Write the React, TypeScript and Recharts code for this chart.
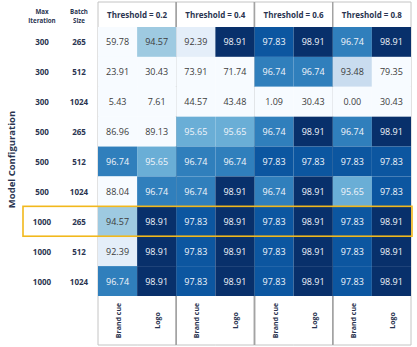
import React from 'react';
import { ScatterChart, Scatter, XAxis, YAxis, ReferenceLine } from 'recharts';

// ---------- data ----------
const thresholds = ['Threshold = 0.2', 'Threshold = 0.4', 'Threshold = 0.6', 'Threshold = 0.8'];
const cueTypes = ['Brand cue', 'Logo'];
const maxIterations = [300, 300, 300, 500, 500, 500, 1000, 1000, 1000];
const batchSizes = [265, 512, 1024, 265, 512, 1024, 265, 512, 1024];
const thr02Brand = [59.78, 23.91, 5.43, 86.96, 96.74, 88.04, 94.57, 92.39, 96.74];
const thr02Logo = [94.57, 30.43, 7.61, 89.13, 95.65, 96.74, 98.91, 98.91, 98.91];
const thr04Brand = [92.39, 73.91, 44.57, 95.65, 96.74, 96.74, 97.83, 97.83, 97.83];
const thr04Logo = [98.91, 71.74, 43.48, 95.65, 96.74, 98.91, 98.91, 98.91, 98.91];
const thr06Brand = [97.83, 96.74, 1.09, 96.74, 97.83, 96.74, 97.83, 97.83, 97.83];
const thr06Logo = [98.91, 96.74, 30.43, 98.91, 97.83, 98.91, 98.91, 98.91, 98.91];
const thr08Brand = [96.74, 93.48, 0.0, 96.74, 97.83, 95.65, 97.83, 97.83, 97.83];
const thr08Logo = [98.91, 79.35, 30.43, 98.91, 97.83, 97.83, 98.91, 98.91, 98.91];
const highlightedRow = 6;

const columnSeries = [thr02Brand, thr02Logo, thr04Brand, thr04Logo, thr06Brand, thr06Logo, thr08Brand, thr08Logo];

const cells = columnSeries.flatMap((series, col) =>
  series.map((value, row) => ({ col, row, value }))
);

// ---------- layout / style ----------
const W = 417;
const H = 347;
const PLOT_LEFT = 98;
const PLOT_RIGHT = 411;
const PLOT_TOP = 27;
const PLOT_BOTTOM = 296;
const HEADER_TOP = 2;
const FOOT_BOTTOM = 345;
const NCOL = columnSeries.length;
const NROW = maxIterations.length;
const CELL_W = (PLOT_RIGHT - PLOT_LEFT) / NCOL;
const CELL_H = (PLOT_BOTTOM - PLOT_TOP) / NROW;
const FONT = "'Open Sans', sans-serif";
const NAVY = '#2a3450';
const LIGHT_LINE = '#c4c4c4';
const DARK_LINE = '#a3a3a3';

// colour scale (Blues-like)
const colorDomain = [90, 92.4, 93.5, 94.6, 95.65, 96.75, 97.85, 98.9];
const colorRange = ['#f7fbff', '#e4eef9', '#c8dcef', '#9dc9e1', '#6aaed6', '#2f7fbc', '#0b559f', '#08306b'];

function hexToRgb(h: string) {
  const n = parseInt(h.slice(1), 16);
  return [(n >> 16) & 255, (n >> 8) & 255, n & 255];
}
function colorFor(v: number) {
  if (v <= colorDomain[0]) return colorRange[0];
  for (let i = 1; i < colorDomain.length; i++) {
    if (v <= colorDomain[i]) {
      const t = (v - colorDomain[i - 1]) / (colorDomain[i] - colorDomain[i - 1]);
      const a = hexToRgb(colorRange[i - 1]);
      const b = hexToRgb(colorRange[i]);
      const c = a.map((x, k) => Math.round(x + (b[k] - x) * t));
      return `rgb(${c[0]},${c[1]},${c[2]})`;
    }
  }
  return colorRange[colorRange.length - 1];
}

const renderCell = (props: any) => {
  const { cx, cy, payload } = props;
  const v = payload.value as number;
  return (
    <g>
      <rect x={cx - CELL_W / 2} y={cy - CELL_H / 2} width={CELL_W} height={CELL_H} fill={colorFor(v)} />
      <text
        x={cx}
        y={cy}
        textAnchor="middle"
        dominantBaseline="central"
        fontFamily={FONT}
        fontSize={9}
        fill={v >= 95 ? '#f2f5fa' : '#3c3c3c'}
      >
        {v.toFixed(2)}
      </text>
    </g>
  );
};

const renderHighlight = (props: any) => {
  const { cy } = props;
  const left = 23;
  return (
    <rect
      x={left}
      y={cy - CELL_H / 2}
      width={PLOT_RIGHT + 1 - left}
      height={CELL_H}
      fill="none"
      stroke="#f2b81c"
      strokeWidth={1.6}
    />
  );
};

const renderThrTick = (props: any) => {
  const { x, payload, index } = props;
  const gw = CELL_W * 2;
  const l = x - gw / 2;
  const r = x + gw / 2;
  return (
    <g>
      <rect x={l} y={HEADER_TOP} width={gw} height={PLOT_TOP - HEADER_TOP} fill="#ffffff" />
      <line x1={l} x2={r} y1={HEADER_TOP} y2={HEADER_TOP} stroke={LIGHT_LINE} strokeWidth={1} />
      <line x1={l} x2={l} y1={HEADER_TOP} y2={PLOT_TOP} stroke={index === 0 ? LIGHT_LINE : DARK_LINE} strokeWidth={index === 0 ? 1 : 1.5} />
      <line x1={r} x2={r} y1={HEADER_TOP} y2={PLOT_TOP} stroke={index === 3 ? LIGHT_LINE : DARK_LINE} strokeWidth={index === 3 ? 1 : 1.5} />
      <text x={x} y={14.5} textAnchor="middle" dominantBaseline="central" fontFamily={FONT} fontWeight={700} fontSize={8} fill={NAVY}>
        {thresholds[Math.round(payload.value - 0.5) / 2]}
      </text>
    </g>
  );
};

const renderCueTick = (props: any) => {
  const { x, payload } = props;
  const col = payload.value as number;
  const l = x - CELL_W / 2;
  const r = x + CELL_W / 2;
  const cy = (PLOT_BOTTOM + FOOT_BOTTOM) / 2;
  const isBrand = col % 2 === 0;
  const edgeX = isBrand ? l : r;
  const outer = col === 0 || col === NCOL - 1;
  return (
    <g>
      <line x1={l} x2={r} y1={FOOT_BOTTOM} y2={FOOT_BOTTOM} stroke={LIGHT_LINE} strokeWidth={1} />
      <line x1={edgeX} x2={edgeX} y1={PLOT_BOTTOM} y2={FOOT_BOTTOM} stroke={outer ? LIGHT_LINE : DARK_LINE} strokeWidth={outer ? 1 : 1.5} />
      <text
        x={x + 1}
        y={cy}
        transform={`rotate(-90, ${x + 1}, ${cy})`}
        textAnchor="middle"
        dominantBaseline="central"
        fontFamily={FONT}
        fontWeight={700}
        fontSize={7}
        fill={NAVY}
      >
        {cueTypes[col % 2]}
      </text>
    </g>
  );
};

const renderRowTick = (props: any) => {
  const { y, payload } = props;
  const row = payload.value as number;
  return (
    <g>
      <text x={42} y={y} textAnchor="middle" dominantBaseline="central" fontFamily={FONT} fontWeight={700} fontSize={8} fill={NAVY}>
        {maxIterations[row]}
      </text>
      <text x={79} y={y} textAnchor="middle" dominantBaseline="central" fontFamily={FONT} fontWeight={700} fontSize={8} fill={NAVY}>
        {batchSizes[row]}
      </text>
    </g>
  );
};

const YLabel = () => {
  const cy = (PLOT_TOP + PLOT_BOTTOM) / 2 - 2;
  return (
    <g>
      <text x={11} y={cy} transform={`rotate(-90, 11, ${cy})`} textAnchor="middle" dominantBaseline="central" fontFamily={FONT} fontWeight={700} fontSize={9.5} fill={NAVY}>
        Model Configuration
      </text>
      <text x={42} y={11} textAnchor="middle" dominantBaseline="central" fontFamily={FONT} fontWeight={700} fontSize={6.2} fill={NAVY}>Max</text>
      <text x={42} y={20} textAnchor="middle" dominantBaseline="central" fontFamily={FONT} fontWeight={700} fontSize={6.2} fill={NAVY}>Iteration</text>
      <text x={79} y={11} textAnchor="middle" dominantBaseline="central" fontFamily={FONT} fontWeight={700} fontSize={6.2} fill={NAVY}>Batch</text>
      <text x={79} y={20} textAnchor="middle" dominantBaseline="central" fontFamily={FONT} fontWeight={700} fontSize={6.2} fill={NAVY}>Size</text>
    </g>
  );
};

const colTicks = columnSeries.map((_, i) => i);
const groupTicks = thresholds.map((_, i) => i * 2 + 0.5);
const rowTicks = maxIterations.map((_, i) => i);

export default function App() {
  return (
    <div style={{ position: 'absolute', left: 0, top: 0, width: W, height: H, background: '#ffffff' }}>
      <ScatterChart
        width={W}
        height={H}
        margin={{ top: HEADER_TOP, right: W - PLOT_RIGHT, bottom: 0, left: 0 }}
      >
        <XAxis
          xAxisId="cue"
          type="number"
          dataKey="col"
          domain={[-0.5, NCOL - 0.5]}
          ticks={colTicks}
          interval={0}
          height={H - PLOT_BOTTOM}
          axisLine={false}
          tickLine={false}
          tick={renderCueTick}
        />
        <XAxis
          xAxisId="thr"
          orientation="top"
          type="number"
          dataKey="col"
          domain={[-0.5, NCOL - 0.5]}
          ticks={groupTicks}
          interval={0}
          height={PLOT_TOP - HEADER_TOP}
          axisLine={false}
          tickLine={false}
          tick={renderThrTick}
        />
        <YAxis
          type="number"
          dataKey="row"
          domain={[-0.5, NROW - 0.5]}
          reversed
          ticks={rowTicks}
          interval={0}
          width={PLOT_LEFT}
          axisLine={false}
          tickLine={false}
          tick={renderRowTick}
          label={<YLabel />}
        />
        <Scatter data={cells} xAxisId="cue" shape={renderCell} isAnimationActive={false} />
        <ReferenceLine xAxisId="cue" x={-0.5} stroke={LIGHT_LINE} strokeWidth={1} />
        <ReferenceLine xAxisId="cue" x={1.5} stroke={DARK_LINE} strokeWidth={1.5} />
        <ReferenceLine xAxisId="cue" x={3.5} stroke={DARK_LINE} strokeWidth={1.5} />
        <ReferenceLine xAxisId="cue" x={5.5} stroke={DARK_LINE} strokeWidth={1.5} />
        <ReferenceLine xAxisId="cue" x={NCOL - 0.5} stroke={LIGHT_LINE} strokeWidth={1} />
        <Scatter
          data={[{ col: (NCOL - 1) / 2, row: highlightedRow }]}
          xAxisId="thr"
          shape={renderHighlight}
          isAnimationActive={false}
        />
      </ScatterChart>
    </div>
  );
}
